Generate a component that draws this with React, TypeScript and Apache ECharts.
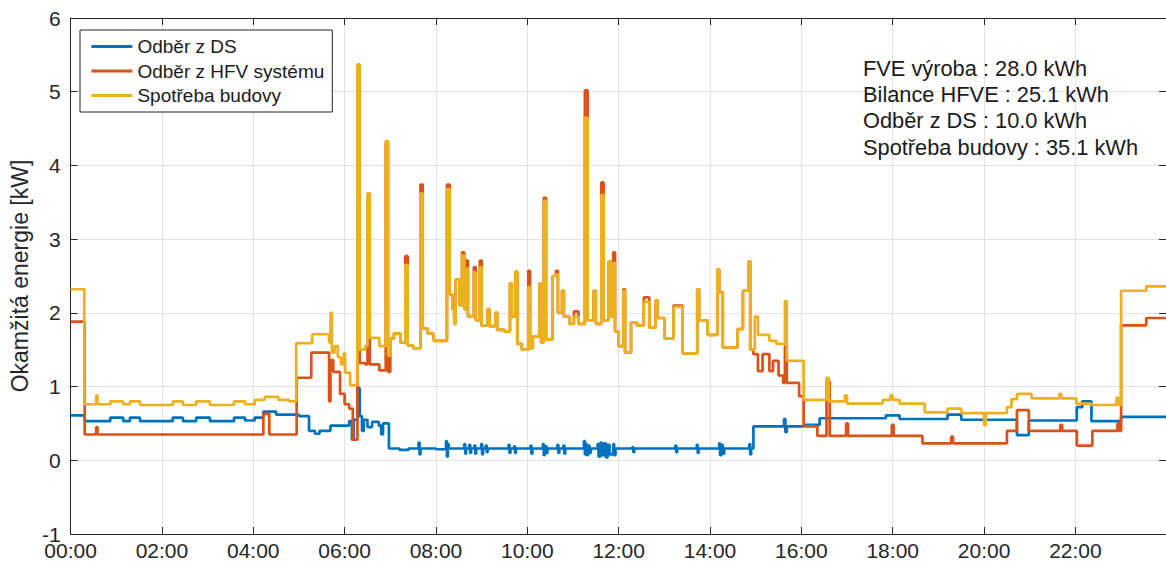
import React, { useEffect, useRef } from "react";
import * as echarts from "echarts";

// Time axis in hours of the day, power in kW. Each pair is [hour, kW]; the value holds until the next pair.
const seriesNames = ["Odběr z DS", "Odběr z HFV systému", "Spotřeba budovy"];
const seriesColors = ["#0072BD", "#D95319", "#EDB120"];

const summaryLines = [
  "FVE výroba : 28.0 kWh",
  "Bilance HFVE : 25.1 kWh",
  "Odběr z DS : 10.0 kWh",
  "Spotřeba budovy : 35.1 kWh",
];

const dayEnd = 23.983;

const dsDraw: [number, number][] = [
  [0.0, 0.61], [0.31, 0.53], [0.87, 0.58], [1.15, 0.53], [1.3, 0.58], [1.52, 0.53],
  [2.24, 0.58], [2.46, 0.53], [2.75, 0.58], [3.05, 0.53], [3.58, 0.58], [3.82, 0.54],
  [4.03, 0.58], [4.22, 0.66], [4.5, 0.62], [5.0, 0.6], [5.22, 0.4], [5.35, 0.36],
  [5.45, 0.4], [5.69, 0.47], [6.1, 0.53], [6.16, 0.28], [6.2, 0.55], [6.28, 0.98],
  [6.33, 0.6], [6.38, 0.4], [6.42, 0.55], [6.5, 0.45], [6.6, 0.52], [6.75, 0.47],
  [6.8, 0.35], [6.84, 0.5], [6.97, 0.16],
  [7.2, 0.14], [7.4, 0.16], [7.62, 0.24], [7.64, 0.08], [7.66, 0.16],
  [8.0, 0.15], [8.22, 0.26], [8.24, 0.05], [8.26, 0.22], [8.28, 0.16],
  [8.62, 0.22], [8.64, 0.09], [8.66, 0.16],
  [8.73, 0.21], [8.75, 0.1], [8.77, 0.16],
  [8.84, 0.2], [8.86, 0.09], [8.88, 0.16],
  [8.99, 0.22], [9.01, 0.08], [9.03, 0.16],
  [9.09, 0.2], [9.11, 0.11], [9.13, 0.16],
  [9.59, 0.21], [9.61, 0.1], [9.63, 0.16],
  [9.71, 0.19], [9.73, 0.1], [9.75, 0.16],
  [10.07, 0.2], [10.09, 0.09], [10.11, 0.16],
  [10.34, 0.22], [10.36, 0.07], [10.38, 0.19], [10.42, 0.1], [10.44, 0.16],
  [10.66, 0.21], [10.68, 0.1], [10.7, 0.16],
  [10.79, 0.2], [10.81, 0.09], [10.83, 0.16],
  [11.24, 0.26], [11.26, 0.08], [11.28, 0.22], [11.3, 0.07], [11.33, 0.2], [11.36, 0.1], [11.39, 0.16],
  [11.54, 0.22], [11.56, 0.05], [11.6, 0.24], [11.63, 0.07], [11.68, 0.23], [11.72, 0.04],
  [11.76, 0.21], [11.8, 0.08], [11.88, 0.22], [11.9, 0.07], [11.93, 0.16],
  [12.3, 0.18], [12.32, 0.11], [12.34, 0.16],
  [13.24, 0.2], [13.26, 0.11], [13.28, 0.16],
  [13.71, 0.21], [13.73, 0.1], [13.75, 0.16],
  [14.2, 0.23], [14.22, 0.07], [14.25, 0.21], [14.28, 0.09], [14.31, 0.16],
  [14.86, 0.22], [14.88, 0.08], [14.9, 0.16],
  [14.95, 0.46], [15.62, 0.56], [15.65, 0.38], [15.68, 0.46], [16.05, 0.48],
  [16.4, 0.57], [17.85, 0.61], [18.15, 0.56], [19.2, 0.62], [19.5, 0.55],
  [20.72, 0.34], [20.98, 0.54], [22.03, 0.72], [22.15, 0.8], [22.35, 0.53],
  [23.0, 0.59], [dayEnd, 0.59],
];

const hfvDraw: [number, number][] = [
  [0.0, 1.88], [0.31, 0.35], [0.56, 0.45], [0.59, 0.35], [4.22, 0.63], [4.35, 0.35],
  [4.95, 1.12], [5.27, 1.46], [5.66, 0.8], [5.69, 1.36], [5.75, 1.2], [5.9, 0.9],
  [6.0, 0.76], [6.1, 0.7], [6.18, 0.28], [6.28, 5.3], [6.33, 1.32], [6.45, 1.3],
  [6.5, 3.55], [6.55, 1.3], [6.76, 1.22], [6.9, 4.3], [6.95, 1.2],
  [7.0, 1.65], [7.08, 1.72], [7.22, 1.6], [7.33, 2.77], [7.38, 1.56], [7.5, 1.52],
  [7.66, 3.74], [7.71, 1.79], [7.82, 1.72], [7.95, 1.62], [8.24, 3.74], [8.3, 2.25],
  [8.36, 2.05], [8.4, 1.85], [8.43, 2.45], [8.52, 2.1], [8.57, 2.82], [8.62, 2.05],
  [8.66, 2.71], [8.7, 1.95], [8.83, 2.62], [8.87, 1.9], [8.96, 2.71], [9.0, 1.83],
  [9.13, 2.05], [9.17, 1.82], [9.3, 2.0], [9.34, 1.77], [9.5, 1.75], [9.62, 2.4],
  [9.66, 1.95], [9.74, 2.56], [9.78, 1.58], [9.88, 1.5], [10.02, 2.57], [10.06, 1.52],
  [10.12, 1.68], [10.27, 2.4], [10.3, 1.6], [10.36, 3.56], [10.41, 1.64], [10.55, 2.5],
  [10.63, 2.57], [10.67, 2.0], [10.76, 2.3], [10.8, 1.95], [10.92, 1.85], [11.02, 2.02],
  [11.12, 1.85], [11.26, 5.02], [11.32, 1.9], [11.45, 2.3], [11.5, 1.85], [11.62, 3.77],
  [11.67, 1.9], [11.78, 2.7], [11.82, 1.95], [11.88, 2.82], [11.92, 1.75], [12.0, 1.55],
  [12.1, 2.32], [12.14, 1.46], [12.27, 1.87], [12.4, 1.83], [12.55, 2.21], [12.67, 1.8],
  [12.81, 2.17], [12.85, 1.93], [13.0, 1.65], [13.2, 2.1], [13.4, 1.45], [13.72, 2.32],
  [13.76, 1.9], [13.95, 1.7], [14.16, 2.59], [14.2, 2.28], [14.28, 1.53], [14.6, 1.78],
  [14.72, 2.3], [14.84, 2.7], [14.88, 1.5],
  [14.95, 1.44], [15.05, 1.21], [15.15, 1.44], [15.3, 1.21], [15.38, 1.35], [15.5, 1.15],
  [15.6, 1.05], [15.64, 1.55], [15.68, 1.05], [15.95, 0.87], [16.05, 0.46], [16.35, 0.33],
  [16.55, 1.07], [16.62, 0.33], [16.98, 0.5], [17.02, 0.33], [17.98, 0.48], [18.02, 0.33],
  [18.65, 0.23], [19.28, 0.32], [19.32, 0.23], [20.5, 0.4], [20.72, 0.68], [20.98, 0.4],
  [21.67, 0.48], [21.71, 0.4], [22.03, 0.2], [22.37, 0.4], [22.92, 0.5], [22.96, 0.4],
  [23.0, 1.83], [23.55, 1.93], [dayEnd, 1.93],
];

const buildingUse: [number, number][] = [
  [0.0, 2.32], [0.3, 0.76], [0.56, 0.88], [0.59, 0.76], [0.87, 0.8], [1.15, 0.76],
  [1.3, 0.8], [1.52, 0.75], [2.24, 0.8], [2.46, 0.75], [2.75, 0.8], [3.05, 0.75],
  [3.58, 0.8], [3.82, 0.76], [4.03, 0.82], [4.25, 0.86], [4.55, 0.82], [4.78, 0.8],
  [4.94, 1.59], [5.29, 1.71], [5.66, 1.6], [5.69, 2.0], [5.72, 1.46], [5.78, 1.55],
  [5.85, 1.4], [5.92, 1.3], [5.98, 1.45], [6.01, 1.19], [6.12, 1.02],
  [6.28, 5.37], [6.33, 1.5], [6.45, 1.55], [6.5, 3.62], [6.55, 1.66], [6.76, 1.55],
  [6.9, 4.33], [6.95, 1.42],
  [7.0, 1.65], [7.08, 1.72], [7.22, 1.6], [7.33, 2.65], [7.38, 1.56], [7.5, 1.52],
  [7.66, 3.62], [7.71, 1.79], [7.82, 1.72], [7.95, 1.62], [8.24, 3.68], [8.3, 2.25],
  [8.36, 2.05], [8.4, 1.85], [8.43, 2.45], [8.52, 2.1], [8.57, 2.78], [8.62, 2.05],
  [8.66, 2.6], [8.7, 1.95], [8.83, 2.55], [8.87, 1.9], [8.96, 2.62], [9.0, 1.83],
  [9.13, 2.05], [9.17, 1.82], [9.3, 2.0], [9.34, 1.77], [9.5, 1.75], [9.62, 2.4],
  [9.66, 1.95], [9.74, 2.56], [9.78, 1.58], [9.88, 1.5], [10.02, 2.35], [10.06, 1.52],
  [10.12, 1.68], [10.27, 2.4], [10.3, 1.6], [10.36, 3.52], [10.41, 1.64], [10.55, 2.5],
  [10.63, 2.52], [10.67, 2.0], [10.76, 2.3], [10.8, 1.95], [10.92, 1.85], [11.02, 1.95],
  [11.12, 1.85], [11.26, 4.65], [11.32, 1.9], [11.45, 2.3], [11.5, 1.85], [11.62, 3.6],
  [11.67, 1.9], [11.78, 2.7], [11.82, 1.95], [11.88, 2.68], [11.92, 1.75], [12.0, 1.55],
  [12.1, 2.3], [12.14, 1.46], [12.27, 1.87], [12.4, 1.83], [12.55, 2.15], [12.67, 1.8],
  [12.81, 2.17], [12.85, 1.93], [13.0, 1.65], [13.2, 2.08], [13.4, 1.45], [13.72, 2.32],
  [13.76, 1.9], [13.95, 1.7], [14.16, 2.59], [14.2, 2.28], [14.28, 1.53], [14.6, 1.78],
  [14.72, 2.3], [14.84, 2.7], [14.88, 1.5],
  [14.98, 1.95], [15.05, 1.7], [15.3, 1.62], [15.45, 1.58], [15.64, 2.16], [15.68, 1.35],
  [16.05, 0.82], [16.55, 1.12], [16.6, 0.8], [16.95, 0.88], [17.0, 0.77], [17.78, 0.82],
  [17.95, 0.88], [18.0, 0.82], [18.15, 0.77], [18.7, 0.65], [19.2, 0.7], [19.5, 0.64],
  [20.0, 0.48], [20.04, 0.64], [20.5, 0.72], [20.6, 0.83], [20.72, 0.9], [21.04, 0.84],
  [21.65, 0.9], [21.69, 0.84], [22.02, 0.77], [22.35, 0.75], [22.9, 0.85], [22.94, 0.75],
  [23.0, 2.3], [23.55, 2.36], [dayEnd, 2.36],
];

const FONT = "'Liberation Sans', Arial, Helvetica, sans-serif";
const AXIS_COLOR = "#262626";
const GRID_COLOR = "#e3e3e3";

const hourLabel = (v: number) =>
  Math.abs(v % 2) < 1e-6 ? `${String(Math.round(v)).padStart(2, "0")}:00` : "";

export default function App() {
  const ref = useRef<HTMLDivElement>(null);

  useEffect(() => {
    if (!ref.current) return;
    const chart = echarts.init(ref.current, undefined, { renderer: "svg" });
    const seriesData = [dsDraw, hfvDraw, buildingUse];

    // box around the plot: every side gets a line and inward ticks
    const frameAxis = {
      axisLine: { show: true, onZero: false, lineStyle: { color: AXIS_COLOR, width: 1 } },
      axisTick: { show: true, inside: true, length: 7, lineStyle: { color: AXIS_COLOR } },
    };

    chart.setOption({
      animation: false,
      backgroundColor: "#ffffff",
      grid: { left: 67, top: 18, right: -2, bottom: 32, containLabel: false },
      xAxis: [
        {
          type: "value",
          min: 0,
          max: dayEnd,
          interval: 2,
          position: "bottom",
          ...frameAxis,
          axisLabel: {
            formatter: hourLabel,
            showMaxLabel: false,
            fontFamily: FONT,
            fontSize: 21,
            lineHeight: 17,
            color: AXIS_COLOR,
            margin: 8,
          },
          splitLine: { show: true, lineStyle: { color: GRID_COLOR, width: 1 } },
        },
        {
          type: "value",
          min: 0,
          max: dayEnd,
          interval: 2,
          position: "top",
          ...frameAxis,
          axisLabel: { show: false },
          splitLine: { show: false },
        },
      ],
      yAxis: [
        {
          type: "value",
          min: -1,
          max: 6,
          interval: 1,
          position: "left",
          ...frameAxis,
          name: "Okamžitá energie [kW]",
          nameLocation: "middle",
          nameGap: 38,
          nameRotate: 90,
          nameTextStyle: { fontFamily: FONT, fontSize: 23, color: AXIS_COLOR },
          axisLabel: {
            fontFamily: FONT,
            fontSize: 21,
            lineHeight: 15,
            color: AXIS_COLOR,
            margin: 10,
          },
          splitLine: { show: true, lineStyle: { color: GRID_COLOR, width: 1 } },
        },
        {
          type: "value",
          min: -1,
          max: 6,
          interval: 1,
          position: "right",
          ...frameAxis,
          axisLabel: { show: false },
          splitLine: { show: false },
        },
      ],
      legend: {
        show: true,
        orient: "vertical",
        left: 80,
        top: 30,
        padding: [7, 8, 7, 10],
        itemWidth: 41,
        itemHeight: 19,
        itemGap: 5.5,
        backgroundColor: "#ffffff",
        borderColor: AXIS_COLOR,
        borderWidth: 1,
        borderRadius: 0,
        itemStyle: { opacity: 0 },
        lineStyle: { width: 2.8 },
        textStyle: { fontFamily: FONT, fontSize: 19, lineHeight: 19, color: "#1a1a1a" },
        data: seriesNames,
        selectedMode: false,
      },
      graphic: summaryLines.map((line, i) => ({
        type: "text",
        x: 863,
        y: 68 + i * 26.4,
        z: 100,
        style: {
          text: line,
          fontFamily: FONT,
          fontSize: 21.8,
          fill: "#1a1a1a",
          verticalAlign: "middle",
        },
      })),
      series: seriesNames.map((name, i) => ({
        name,
        type: "line",
        step: "end",
        symbol: "none",
        clip: true,
        color: seriesColors[i],
        lineStyle: { color: seriesColors[i], width: 2.7 },
        data: seriesData[i],
        z: 2 + i,
      })),
    });

    return () => chart.dispose();
  }, []);

  return (
    <div
      ref={ref}
      style={{ position: "absolute", left: 0, top: 0, width: 1166, height: 566 }}
    />
  );
}
